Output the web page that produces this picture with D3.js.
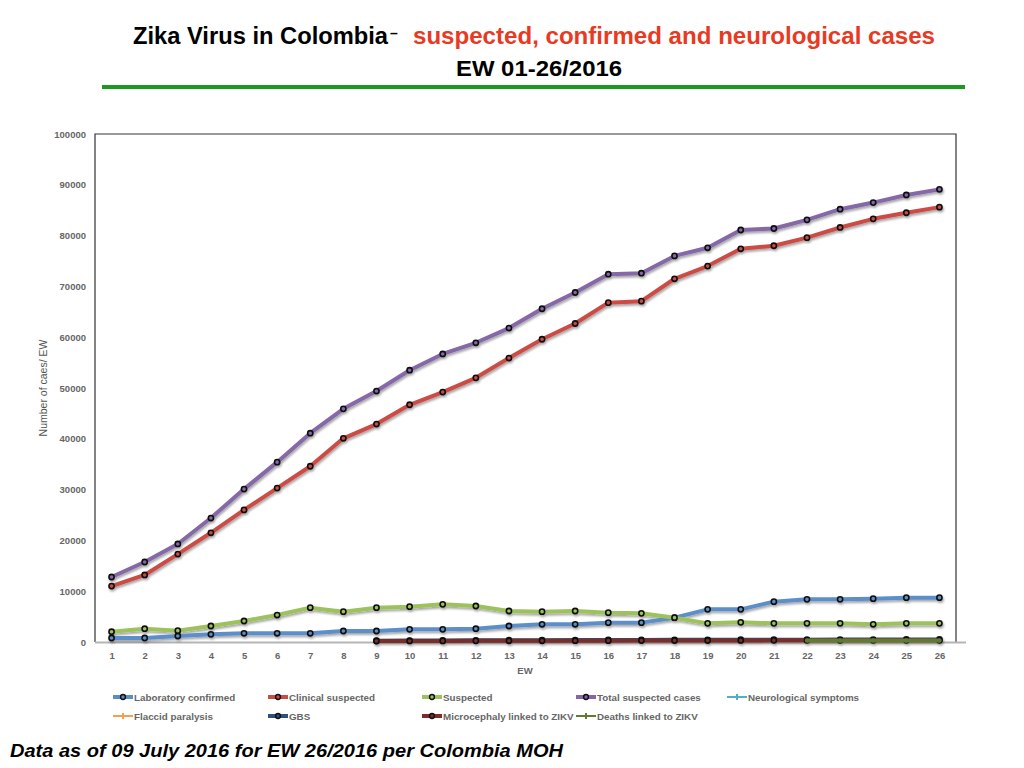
<!DOCTYPE html>
<html lang="en">
<head>
<meta charset="utf-8">
<title>Zika Virus in Colombia</title>
<script src="https://cdn.jsdelivr.net/npm/d3@7/dist/d3.min.js"></script>
<style>
  body { margin: 0; background: #fff; }
  svg { display: block; }
  .tick text { font-family: "Liberation Sans", Arial, sans-serif; font-weight: bold; fill: #666; }
</style>
</head>
<body>
<script>
// weeks and series (cumulative cases), null = no value that week
const weeks = d3.range(1, 27);
const labConfirmed = [790, 790, 1180, 1510, 1710, 1710, 1710, 2170, 2170, 2490, 2490, 2620, 3150,
  3480, 3480, 3810, 3810, 4790, 6430, 6430, 7940, 8400, 8400, 8530, 8730, 8730];
const clinicalSuspected = [11000, 13200, 17300, 21500, 26000, 30300, 34600, 40100, 42900, 46700, 49200,
  52000, 55900, 59600, 62700, 66800, 67100, 71500, 74000, 77400, 78000, 79600, 81600, 83300, 84500, 85600];
const suspected = [2030, 2620, 2230, 3150, 4130, 5310, 6760, 5970, 6760, 6960, 7410, 7090, 6100,
  5970, 6100, 5780, 5640, 4790, 3670, 3870, 3670, 3670, 3670, 3480, 3670, 3670];
const totalSuspected = [12800, 15750, 19300, 24400, 30100, 35400, 41100, 45900, 49400, 53500, 56700,
  58900, 61800, 65600, 68800, 72400, 72600, 76000, 77600, 81100, 81400, 83100, 85200, 86500, 88000, 89100];
const neuroSymptoms = weeks.map(() => null);
const flaccidParalysis = weeks.map(() => null);
const gbs = [null, null, null, null, null, null, null, null, 250, 280, 300, 320, 340, 360, 380,
  400, 410, 420, 430, 440, 450, 460, 470, 480, 490, 500];
const microcephaly = [null, null, null, null, null, null, null, null, 200, 210, 220, 230, 240, 250,
  260, 270, 280, 290, 300, 310, 320, 320, 320, 320, 320, 320];
const deaths = [null, null, null, null, null, null, null, null, null, null, null, null, null, null,
  null, null, null, null, null, null, null, 300, 300, 300, 300, 300];
const yTicks = d3.range(0, 100001, 10000);

const series = [
  { name: "Laboratory confirmed", values: labConfirmed, color: "#5b8ec9", dot: true },
  { name: "Clinical suspected", values: clinicalSuspected, color: "#cc4b45", dot: true },
  { name: "Suspected", values: suspected, color: "#9dc25c", dot: true },
  { name: "Total suspected cases", values: totalSuspected, color: "#8567a8", dot: true },
  { name: "Neurological symptoms", values: neuroSymptoms, color: "#4fb0c8", dot: false },
  { name: "Flaccid paralysis", values: flaccidParalysis, color: "#f5a04f", dot: false },
  { name: "GBS", values: gbs, color: "#2f5078", dot: true },
  { name: "Microcephaly linked to ZIKV", values: microcephaly, color: "#7a2d2b", dot: true },
  { name: "Deaths linked to ZIKV", values: deaths, color: "#627a33", dot: false }
];

const W = 1024, H = 768;
const plot = { left: 95, right: 956, top: 134, bottom: 642 };

const svg = d3.select("body").append("svg")
  .attr("width", W).attr("height", H);

const defs = svg.append("defs");
defs.append("filter").attr("id", "shadow")
  .attr("x", "-5%").attr("y", "-5%").attr("width", "110%").attr("height", "120%")
  .append("feDropShadow")
  .attr("dx", 1).attr("dy", 2).attr("stdDeviation", 1.2)
  .attr("flood-color", "#000").attr("flood-opacity", 0.35);

// title
const title = svg.append("text")
  .attr("x", 133).attr("y", 44)
  .attr("font-family", "'Liberation Sans Narrow', 'Liberation Sans', Arial, sans-serif")
  .attr("font-weight", "bold").attr("font-size", 23);
title.append("tspan").attr("fill", "#000").attr("textLength", 255).attr("lengthAdjust", "spacingAndGlyphs")
  .text("Zika Virus in Colombia");
title.append("tspan").attr("fill", "#000").attr("x", 390).attr("dy", -6).attr("font-size", 14)
  .text("–");
title.append("tspan").attr("fill", "#e83a22").attr("x", 413).attr("dy", 6)
  .attr("textLength", 522).attr("lengthAdjust", "spacingAndGlyphs")
  .text("suspected,  confirmed and neurological cases");
svg.append("text")
  .attr("x", 539).attr("y", 76).attr("text-anchor", "middle")
  .attr("font-family", "'Liberation Sans Narrow', 'Liberation Sans', Arial, sans-serif")
  .attr("font-weight", "bold").attr("font-size", 22)
  .attr("textLength", 166).attr("lengthAdjust", "spacingAndGlyphs")
  .text("EW 01-26/2016");
svg.append("rect")
  .attr("x", 102).attr("y", 85).attr("width", 863).attr("height", 4)
  .attr("fill", "#1b9a1f");

// scales
const x = d3.scalePoint().domain(weeks).range([plot.left, plot.right]).padding(0.5);
const y = d3.scaleLinear().domain([0, 100000]).range([plot.bottom, plot.top]);

// frame
svg.append("path")
  .attr("d", `M${plot.left},${plot.bottom}V${plot.top}H${plot.right}V${plot.bottom}`)
  .attr("fill", "none").attr("stroke", "#333").attr("stroke-width", 1.2);

// axes
svg.append("g")
  .attr("transform", `translate(${plot.left - 6},0)`)
  .call(d3.axisLeft(y).tickValues(yTicks).tickFormat(d3.format("d")).tickSize(0).tickPadding(3))
  .call(g => g.select(".domain").remove())
  .call(g => g.selectAll("text").attr("font-size", 9.5));

svg.append("g")
  .attr("transform", `translate(0,${plot.bottom})`)
  .call(d3.axisBottom(x).tickSize(0).tickPadding(10))
  .call(g => g.select(".domain").attr("d", `M${plot.left},0.5H${plot.right + 10}`)
    .attr("stroke", "#b5b5b5").attr("stroke-width", 2))
  .call(g => g.selectAll("text").attr("font-size", 9.5));

svg.append("text")
  .attr("x", 525).attr("y", 674).attr("text-anchor", "middle")
  .attr("font-family", "'Liberation Sans', Arial, sans-serif").attr("font-weight", "bold")
  .attr("font-size", 9.5).attr("fill", "#666").text("EW");

svg.append("text")
  .attr("transform", `translate(47,${(plot.top + plot.bottom) / 2}) rotate(-90)`)
  .attr("text-anchor", "middle")
  .attr("font-family", "'Liberation Sans', Arial, sans-serif")
  .attr("font-size", 10.5).attr("fill", "#555").text("Number of caes/ EW");

// lines
const line = d3.line()
  .defined(d => d.v !== null)
  .x(d => x(d.w)).y(d => y(d.v));

const lines = svg.append("g").attr("filter", "url(#shadow)");
series.forEach(s => {
  const pts = weeks.map((w, i) => ({ w: w, v: s.values[i] }));
  const g = lines.append("g");
  g.append("path").datum(pts)
    .attr("d", line)
    .attr("fill", "none").attr("stroke", s.color)
    .attr("stroke-width", 4).attr("stroke-linejoin", "round");
  g.selectAll("circle").data(pts.filter(d => d.v !== null)).join("circle")
    .attr("cx", d => x(d.w)).attr("cy", d => y(d.v))
    .attr("r", s.dot ? 2.6 : 2.2)
    .attr("fill", s.color)
    .attr("stroke", s.dot ? "#111" : "none").attr("stroke-width", 1.6);
});

// legend
const legendPos = [
  [113, 697], [268, 697], [422, 697], [576, 697], [727, 697],
  [113, 716], [268, 716], [422, 716], [576, 716]
];
const legend = svg.append("g");
series.forEach((s, i) => {
  const [lx, ly] = legendPos[i];
  const len = 20;
  const g = legend.append("g").attr("transform", `translate(${lx},${ly})`);
  g.append("line").attr("x1", 0).attr("x2", len).attr("y1", 0).attr("y2", 0)
    .attr("stroke", s.color).attr("stroke-width", s.dot ? 4 : 2);
  if (s.dot) {
    g.append("circle").attr("cx", len / 2).attr("cy", 0).attr("r", 2.4)
      .attr("fill", s.color).attr("stroke", "#111").attr("stroke-width", 1.5);
  } else {
    g.append("path").attr("d", `M${len / 2},-3V3M${len / 2 - 3},0H${len / 2 + 3}`)
      .attr("stroke", s.color).attr("stroke-width", 2);
  }
  g.append("text").attr("x", len + 1).attr("y", 3.5)
    .attr("font-family", "'Liberation Sans', Arial, sans-serif")
    .attr("font-weight", "bold").attr("font-size", 9.8).attr("fill", "#666")
    .text(s.name);
});

// footer
svg.append("text")
  .attr("x", 10).attr("y", 757)
  .attr("font-family", "'Liberation Sans', Arial, sans-serif")
  .attr("font-weight", "bold").attr("font-style", "italic").attr("font-size", 18.5)
  .attr("textLength", 553).attr("lengthAdjust", "spacingAndGlyphs")
  .text("Data as of 09 July 2016 for EW 26/2016 per Colombia MOH");
</script>
</body>
</html>
